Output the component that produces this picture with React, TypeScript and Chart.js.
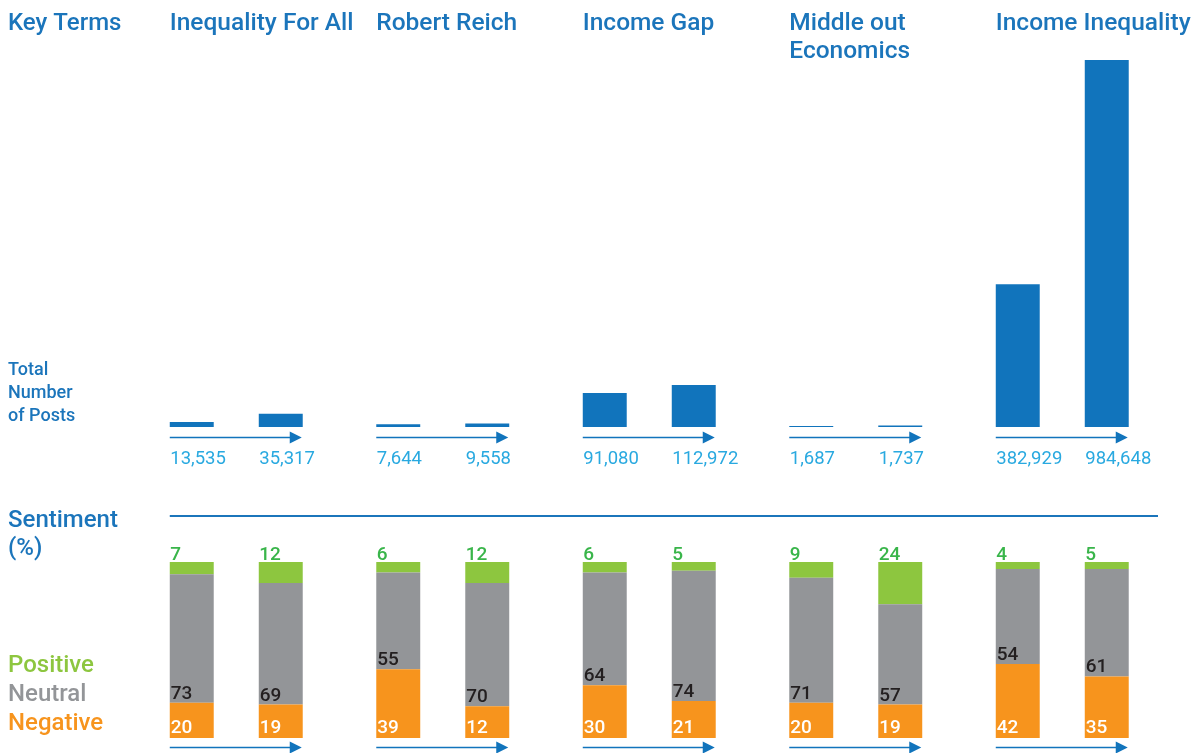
import React, { useEffect, useRef } from "react";
import { Chart, registerables } from "chart.js";
Chart.register(...registerables);

// ---------- data ----------
const keyTerms = ["Inequality For All", "Robert Reich", "Income Gap", "Middle out\nEconomics", "Income Inequality"];
const postsBefore = [13535, 7644, 91080, 1687, 382929];
const postsAfter = [35317, 9558, 112972, 1737, 984648];

const positiveBefore = [7, 6, 6, 9, 4];
const positiveAfter = [12, 12, 5, 24, 5];
const neutralBefore = [73, 55, 64, 71, 54];
const neutralAfter = [69, 70, 74, 57, 61];
const negativeBefore = [20, 39, 30, 20, 42];
const negativeAfter = [19, 18, 21, 19, 35]; // bar heights as drawn
const negativeAfterPrinted = [19, 12, 21, 19, 35]; // numbers as printed

const postsRowLabel = ["Total", "Number", "of Posts"];
const sentimentLabel = ["Sentiment", "(%)"];
const legendLabels = ["Positive", "Neutral", "Negative"];

// ---------- style ----------
const W = 1204;
const H = 753;
const BLUE = "#1174bc";
const TITLE = "#1b75bb";
const VALUE = "#29a9e0";
const GREEN = "#8dc63f";
const GREEN_TXT = "#39b54a";
const GRAY = "#939598";
const ORANGE = "#f7941d";
const FONT = "Roboto, 'Open Sans', sans-serif";
const PAD = { left: 133, right: 38.5 };
const CAT_PCT = 0.862;
const BAR_PCT = 0.494;

const fmt = (n: number) => n.toLocaleString("en-US");

function drawArrow(ctx: CanvasRenderingContext2D, x1: number, x2: number, y: number) {
  ctx.save();
  ctx.strokeStyle = BLUE;
  ctx.fillStyle = BLUE;
  ctx.lineWidth = 1.6;
  ctx.beginPath();
  ctx.moveTo(x1, y);
  ctx.lineTo(x2 - 11, y);
  ctx.stroke();
  ctx.beginPath();
  ctx.moveTo(x2 - 12, y - 6);
  ctx.lineTo(x2, y);
  ctx.lineTo(x2 - 12, y + 6);
  ctx.closePath();
  ctx.fill();
  ctx.restore();
}

const topTextPlugin = {
  id: "topText",
  afterDraw(chart: any) {
    const ctx: CanvasRenderingContext2D = chart.ctx;
    const m0 = chart.getDatasetMeta(0);
    const m1 = chart.getDatasetMeta(1);
    ctx.save();
    ctx.textAlign = "left";
    ctx.textBaseline = "alphabetic";
    ctx.fillStyle = TITLE;
    ctx.font = `500 24px ${FONT}`;
    ctx.fillText("Key Terms", 8, 30);
    ctx.font = `500 24.5px ${FONT}`;
    keyTerms.forEach((t, i) => {
      const b = m0.data[i];
      const left = b.x - b.width / 2;
      t.split("\n").forEach((line, k) => ctx.fillText(line, left, 30 + k * 28));
    });
    ctx.font = `500 18px ${FONT}`;
    postsRowLabel.forEach((l, k) => ctx.fillText(l, 8, 375 + k * 23));

    ctx.font = `400 18.5px ${FONT}`;
    ctx.fillStyle = VALUE;
    keyTerms.forEach((_, i) => {
      const b0 = m0.data[i];
      const b1 = m1.data[i];
      const l0 = b0.x - b0.width / 2;
      const l1 = b1.x - b1.width / 2;
      const r1 = b1.x + b1.width / 2;
      const base = b0.base;
      drawArrow(ctx, l0, r1 - 1, base + 10.5);
      ctx.fillText(fmt(postsBefore[i]), l0 + 0.5, base + 37);
      ctx.fillText(fmt(postsAfter[i]), l1 + 0.5, base + 37);
    });
    ctx.restore();
  },
};

const bottomTextPlugin = {
  id: "bottomText",
  afterDraw(chart: any) {
    const ctx: CanvasRenderingContext2D = chart.ctx;
    const area = chart.chartArea;
    ctx.save();
    ctx.textAlign = "left";
    ctx.textBaseline = "alphabetic";
    ctx.fillStyle = TITLE;
    ctx.font = `500 24px ${FONT}`;
    ctx.fillText(sentimentLabel[0], 8, 527);
    ctx.fillText(sentimentLabel[1], 8, 555);

    const first = chart.getDatasetMeta(0).data[0];
    ctx.strokeStyle = TITLE;
    ctx.lineWidth = 2;
    ctx.beginPath();
    ctx.moveTo(first.x - first.width / 2, 516);
    ctx.lineTo(area.right - 7.5, 516);
    ctx.stroke();

    const legendColors = [GREEN, GRAY, ORANGE];
    legendLabels.forEach((l, k) => {
      ctx.fillStyle = legendColors[k];
      ctx.fillText(l, 8, 672 + k * 29);
    });

    ctx.font = `500 19px ${FONT}`;
    const sides = [
      { neg: 0, neu: 1, pos: 2, negTxt: negativeBefore, neuTxt: neutralBefore, posTxt: positiveBefore },
      { neg: 3, neu: 4, pos: 5, negTxt: negativeAfterPrinted, neuTxt: neutralAfter, posTxt: positiveAfter },
    ];
    keyTerms.forEach((_, i) => {
      sides.forEach((s) => {
        const negEl = chart.getDatasetMeta(s.neg).data[i];
        const left = negEl.x - negEl.width / 2;
        ctx.fillStyle = GREEN_TXT;
        ctx.fillText(String(s.posTxt[i]), left + 0.5, area.top - 2.5);
        ctx.fillStyle = "#231f20";
        ctx.fillText(String(s.neuTxt[i]), left + 1, negEl.y - 4);
        ctx.fillStyle = "#ffffff";
        ctx.fillText(String(s.negTxt[i]), left + 1, negEl.base - 5);
      });
      const b0 = chart.getDatasetMeta(0).data[i];
      const b1 = chart.getDatasetMeta(3).data[i];
      drawArrow(ctx, b0.x - b0.width / 2, b1.x + b1.width / 2 - 1, b0.base + 9.5);
    });
    ctx.restore();
  },
};

export default function App() {
  const topRef = useRef<HTMLCanvasElement>(null);
  const botRef = useRef<HTMLCanvasElement>(null);

  useEffect(() => {
    const barCommon = { categoryPercentage: CAT_PCT, barPercentage: BAR_PCT, borderWidth: 0 };
    const top = new Chart(topRef.current!, {
      type: "bar",
      data: {
        labels: keyTerms,
        datasets: [
          { label: "Before", data: postsBefore, backgroundColor: BLUE, minBarLength: 1, ...barCommon },
          { label: "After", data: postsAfter, backgroundColor: BLUE, minBarLength: 1.5, ...barCommon },
        ],
      },
      options: {
        responsive: false,
        animation: false,
        layout: { padding: { left: PAD.left, right: PAD.right, top: 60, bottom: H - 427 } },
        scales: {
          x: { display: false },
          y: { display: false, min: 0, max: 984648 },
        },
        plugins: { legend: { display: false }, tooltip: { enabled: false } },
      },
      plugins: [topTextPlugin],
    } as any);

    const bottom = new Chart(botRef.current!, {
      type: "bar",
      data: {
        labels: keyTerms,
        datasets: [
          { label: "Negative", data: negativeBefore, stack: "before", backgroundColor: ORANGE, ...barCommon },
          { label: "Neutral", data: neutralBefore, stack: "before", backgroundColor: GRAY, ...barCommon },
          { label: "Positive", data: positiveBefore, stack: "before", backgroundColor: GREEN, ...barCommon },
          { label: "Negative", data: negativeAfter, stack: "after", backgroundColor: ORANGE, ...barCommon },
          { label: "Neutral", data: neutralAfter, stack: "after", backgroundColor: GRAY, ...barCommon },
          { label: "Positive", data: positiveAfter, stack: "after", backgroundColor: GREEN, ...barCommon },
        ],
      },
      options: {
        responsive: false,
        animation: false,
        layout: { padding: { left: PAD.left, right: PAD.right, top: 562, bottom: H - 738 } },
        scales: {
          x: { display: false, stacked: true },
          y: { display: false, stacked: true, min: 0, max: 100 },
        },
        plugins: { legend: { display: false }, tooltip: { enabled: false } },
      },
      plugins: [bottomTextPlugin],
    } as any);

    return () => {
      top.destroy();
      bottom.destroy();
    };
  }, []);

  const canvasStyle: React.CSSProperties = { position: "absolute", left: 0, top: 0, width: W, height: H };
  return (
    <div style={{ position: "absolute", left: 0, top: 0, width: W, height: H, background: "#ffffff" }}>
      <canvas ref={topRef} width={W} height={H} style={canvasStyle} />
      <canvas ref={botRef} width={W} height={H} style={canvasStyle} />
    </div>
  );
}
